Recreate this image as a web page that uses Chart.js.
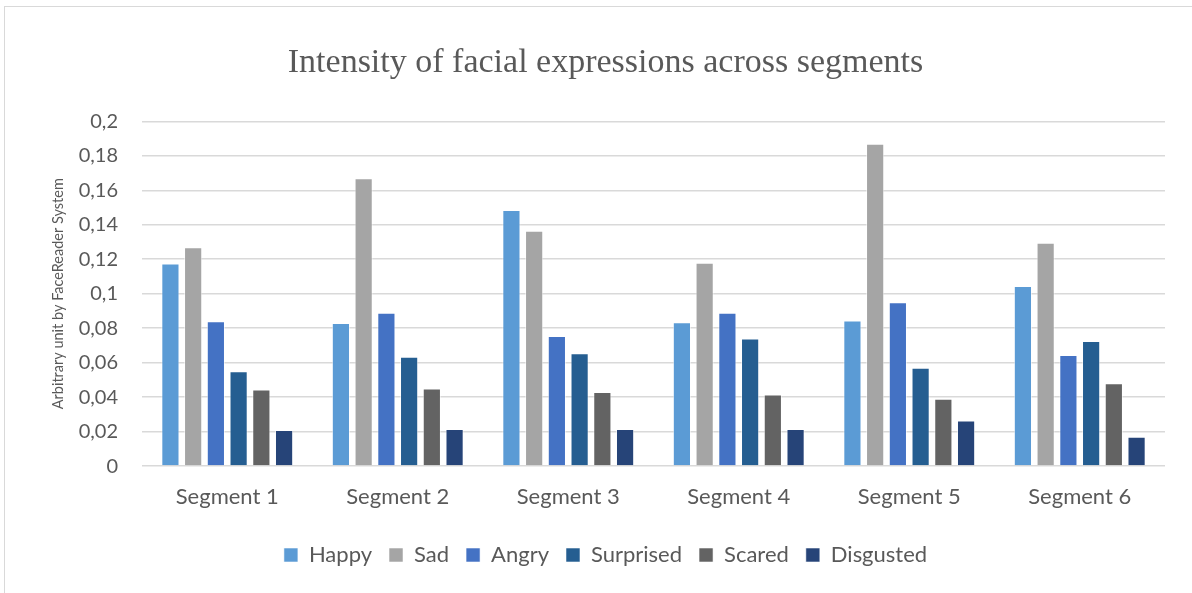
<!DOCTYPE html>
<html>
<head>
<meta charset="utf-8">
<script src="https://cdn.jsdelivr.net/npm/chart.js@4.4.1/dist/chart.umd.min.js"></script>
<style>
  html, body { margin: 0; padding: 0; background: #ffffff; }
  #wrap { position: relative; width: 1192px; height: 593px; overflow: hidden; }
  #frame { position: absolute; left: 4px; top: 6px; width: 1300px; height: 700px;
           border-top: 1px solid #d9d9d9; border-left: 1px solid #d9d9d9; box-sizing: border-box; }
  canvas { position: absolute; left: 0; top: 0; }
</style>
</head>
<body>
<div id="wrap">
  <div id="frame"></div>
  <canvas id="c" width="1192" height="593"></canvas>
</div>
<script>
// Segments of the recording
const segments = ['Segment 1', 'Segment 2', 'Segment 3', 'Segment 4', 'Segment 5', 'Segment 6'];

// Mean intensity per expression and segment (FaceReader arbitrary units)
const happy     = [0.1175, 0.0830, 0.1485, 0.0835, 0.0845, 0.1045];
const sad       = [0.1270, 0.1670, 0.1365, 0.1180, 0.1870, 0.1295];
const angry     = [0.0840, 0.0890, 0.0755, 0.0890, 0.0950, 0.0645];
const surprised = [0.0550, 0.0635, 0.0655, 0.0740, 0.0570, 0.0725];
const scared    = [0.0445, 0.0450, 0.0430, 0.0415, 0.0390, 0.0480];
const disgusted = [0.0210, 0.0215, 0.0215, 0.0215, 0.0265, 0.0170];

// Value axis labels, decimal comma
const yTickLabels = ['0', '0,02', '0,04', '0,06', '0,08', '0,1', '0,12', '0,14', '0,16', '0,18', '0,2'];

const textGrey = '#595959';
const bodyFont = 'Lato, "Open Sans", sans-serif';

function series(label, data, color) {
  return {
    label: label,
    data: data,
    backgroundColor: color,
    borderColor: 'rgba(255,255,255,0.55)',
    borderWidth: 1,
    categoryPercentage: 0.8,
    barPercentage: 0.8
  };
}

new Chart(document.getElementById('c'), {
  type: 'bar',
  data: {
    labels: segments,
    datasets: [
      series('Happy', happy, '#5B9BD5'),
      series('Sad', sad, '#A5A5A5'),
      series('Angry', angry, '#4472C4'),
      series('Surprised', surprised, '#255E91'),
      series('Scared', scared, '#636363'),
      series('Disgusted', disgusted, '#264478')
    ]
  },
  options: {
    responsive: false,
    animation: false,
    layout: { padding: { left: 46, right: 27, top: 0, bottom: 17 } },
    plugins: {
      tooltip: { enabled: false },
      title: {
        display: true,
        text: 'Intensity of facial expressions across segments',
        color: textGrey,
        font: { family: '"Liberation Serif", serif', size: 34, weight: 'normal', lineHeight: 1.2 },
        padding: { top: 43, bottom: 37.5 }
      },
      legend: {
        position: 'bottom',
        labels: {
          color: textGrey,
          font: { family: bodyFont, size: 22 },
          boxWidth: 14,
          boxHeight: 14,
          padding: 17
        }
      }
    },
    scales: {
      x: {
        afterFit: function (scale) { scale.height += 6.5; },
        grid: { display: false },
        border: { display: false },
        ticks: {
          color: textGrey,
          font: { family: bodyFont, size: 22 },
          padding: 10,
          maxRotation: 0
        }
      },
      y: {
        min: 0,
        max: 0.2,
        afterFit: function (scale) { scale.width = 96; },
        grid: { color: '#d9d9d9', lineWidth: 1.5, drawTicks: false },
        border: { display: false },
        ticks: {
          stepSize: 0.02,
          color: textGrey,
          font: { family: bodyFont, size: 20 },
          padding: 24,
          callback: function (value, index) { return yTickLabels[index]; }
        },
        title: {
          display: true,
          text: 'Arbitrary unit by FaceReader System',
          color: textGrey,
          font: { family: bodyFont, size: 14.5 },
          padding: { top: 4, bottom: 0 }
        }
      }
    }
  }
});
</script>
</body>
</html>
